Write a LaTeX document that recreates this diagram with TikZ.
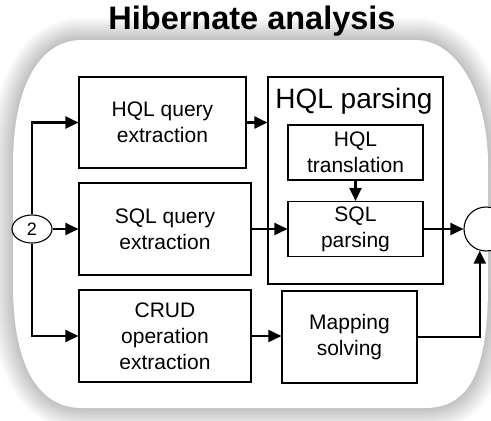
\documentclass[tikz,border=0pt]{standalone}
\usepackage{fontspec}
\setmainfont{Liberation Sans}
\usetikzlibrary{arrows.meta,shapes.geometric}
\tikzset{
  box/.style={draw=black,line width=1.1pt,rectangle,align=center,inner sep=0pt,
    font=\fontsize{21}{26}\selectfont},
  conn/.style={line width=2.2pt,-{Triangle[length=13pt,width=12pt]}},
}
\def\bgshape{(13,165) .. controls (13,85) and (40,40) .. (82,40) -- (415,40)
  .. controls (458,40) and (488,95) .. (488,165) -- (488,285)
  .. controls (488,370) and (470,408) .. (425,408) -- (82,408)
  .. controls (35,408) and (13,360) .. (13,285) -- cycle}
\begin{document}
\begin{tikzpicture}[x=1pt,y=-1pt]
\useasboundingbox (0,0) rectangle (491,421);
\fill[white] (0,0) rectangle (491,421);
% soft shadow around the background shape
\foreach \i in {1,...,15}{
  \draw[line width=\i*3pt,black,draw opacity=0.015,line join=round] \bgshape;
}
\fill[white] \bgshape;
% title
\node (title) at (252,21) {\fontsize{32.5}{38}\selectfont\bfseries Hibernate analysis};
% boxes
\node[box,minimum width=167pt,minimum height=91pt] (hqlx) at (162.5,122.5) {HQL query\\extraction};
\node[box,minimum width=172pt,minimum height=92pt] (sqlx) at (165,229) {SQL query\\extraction};
\node[box,minimum width=172pt,minimum height=92pt] (crud) at (165,336) {CRUD\\operation\\extraction};
\node[box,minimum width=135pt,minimum height=92pt] (map) at (349.5,337) {Mapping\\solving};
\node[box,minimum width=175pt,minimum height=207pt] (hqlp) at (355.5,180.5) {};
\node[font=\fontsize{28}{32}\selectfont] (hqlptitle) at (354,101) {HQL parsing};
\node[box,minimum width=135pt,minimum height=55pt] (hqlt) at (355.5,152.5) {HQL\\translation};
\node[box,minimum width=135pt,minimum height=55pt] (sqlp) at (355.5,229) {SQL\\parsing};
\node[draw=black,line width=1.1pt,ellipse,minimum width=40pt,minimum height=28pt,inner sep=0pt,
  font=\fontsize{18}{20}\selectfont] (two) at (32,229) {2};
\node[draw=black,line width=1.1pt,circle,minimum size=44pt,inner sep=0pt,fill=white] (out) at (486,229) {};
% connectors
\draw[conn] (two.north) |- (hqlx.west);
\draw[conn] (two.south) |- (crud.west);
\draw[conn] (two.east) -- (sqlx.west);
\draw[conn] (hqlx.east) -- (hqlx.east -| hqlp.west);
\draw[conn] (sqlx.east) -- (sqlp.west);
\draw[conn] (hqlt.south) -- (sqlp.north);
\draw[conn] (sqlp.east) -- (out.west);
\draw[conn] (crud.east) -- (crud.east -| map.west);
\draw[conn] (map.east) -| (out.-106);
\end{tikzpicture}
\end{document}
